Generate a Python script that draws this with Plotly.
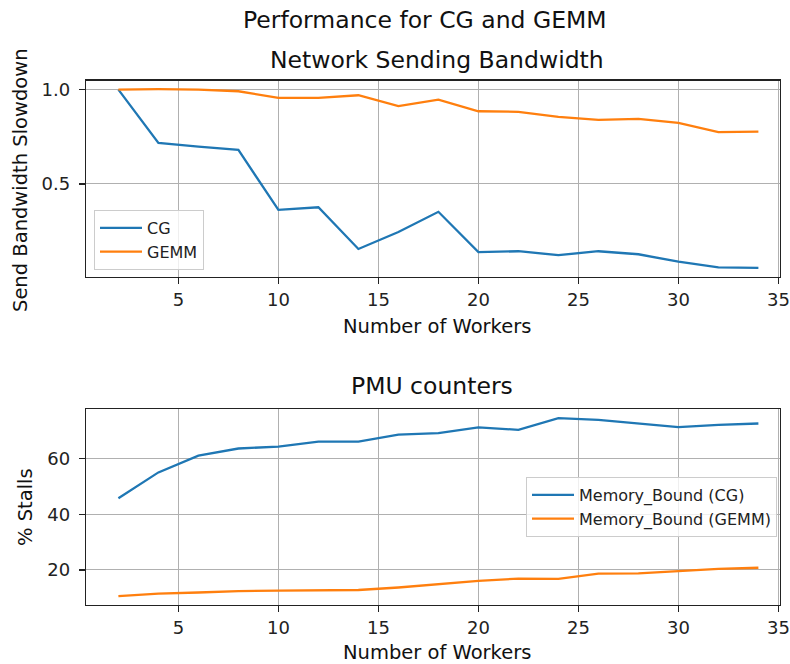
import plotly.graph_objects as go

W, H = 790, 664

workers = [2, 4, 6, 8, 10, 12, 14, 16, 18, 20, 22, 24, 26, 28, 30, 32, 34]
cg_bw = [1.0, 0.717, 0.698, 0.680, 0.362, 0.376, 0.155, 0.245, 0.352, 0.138, 0.143,
         0.122, 0.143, 0.127, 0.088, 0.057, 0.055]
gemm_bw = [1.0, 1.002, 1.0, 0.991, 0.956, 0.956, 0.970, 0.912, 0.947, 0.885, 0.882,
           0.855, 0.839, 0.845, 0.823, 0.774, 0.777]
cg_mem = [45.8, 55.1, 61.1, 63.7, 64.4, 66.2, 66.2, 68.7, 69.2, 71.3, 70.4, 74.6,
          74.0, 72.8, 71.4, 72.2, 72.7]
gemm_mem = [10.6, 11.5, 11.9, 12.4, 12.6, 12.7, 12.8, 13.7, 15.0, 16.1, 16.9, 16.8,
            18.7, 18.8, 19.6, 20.4, 20.8]

BLUE = "#1f77b4"
ORANGE = "#ff7f0e"
FONT = "DejaVu Sans"


def px(x):
    return x / W


def py(y):
    return 1 - y / H


fig = go.Figure()
fig.add_trace(go.Scatter(x=workers, y=cg_bw, mode="lines", name="CG",
                         line=dict(color=BLUE, width=2.3), xaxis="x", yaxis="y",
                         legend="legend"))
fig.add_trace(go.Scatter(x=workers, y=gemm_bw, mode="lines", name="GEMM",
                         line=dict(color=ORANGE, width=2.3), xaxis="x", yaxis="y",
                         legend="legend"))
fig.add_trace(go.Scatter(x=workers, y=cg_mem, mode="lines", name="Memory_Bound (CG)",
                         line=dict(color=BLUE, width=2.3), xaxis="x2", yaxis="y2",
                         legend="legend2"))
fig.add_trace(go.Scatter(x=workers, y=gemm_mem, mode="lines", name="Memory_Bound (GEMM)",
                         line=dict(color=ORANGE, width=2.3), xaxis="x2", yaxis="y2",
                         legend="legend2"))

x_dom = [px(86), px(780)]
axis_common = dict(showline=True, mirror=True, linecolor="#222222", linewidth=1.3,
                   ticks="outside", ticklen=6, tickcolor="#222222", tickwidth=1.3,
                   showgrid=True, gridcolor="#b0b0b0", gridwidth=1, zeroline=False,
                   tickfont=dict(family=FONT, size=18, color="#222222"),
                   automargin=False)

legend_common = dict(xanchor="left", yanchor="top", bgcolor="rgba(255,255,255,0.8)",
                     bordercolor="#cccccc", borderwidth=1, itemwidth=42,
                     font=dict(family=FONT, size=16, color="#222222"), tracegroupgap=0)

fig.update_layout(
    width=W, height=H,
    margin=dict(l=0, r=0, t=0, b=0, pad=0),
    paper_bgcolor="white", plot_bgcolor="white",
    font=dict(family=FONT, color="#222222"),
    xaxis=dict(domain=x_dom, anchor="y", range=[0.38, 35.08],
               tickvals=[5, 10, 15, 20, 25, 30, 35], **axis_common),
    yaxis=dict(domain=[py(276.7), py(80.7)], anchor="x", range=[0.008, 1.047],
               tickvals=[0.5, 1.0], ticktext=["0.5", "1.0"], ticklabelstandoff=5,
               **axis_common),
    xaxis2=dict(domain=x_dom, anchor="y2", range=[0.38, 35.08],
                tickvals=[5, 10, 15, 20, 25, 30, 35], **axis_common),
    yaxis2=dict(domain=[py(605), py(409.3)], anchor="x2", range=[7.4, 77.8],
                tickvals=[20, 40, 60], ticklabelstandoff=5, **axis_common),
    legend=dict(x=px(94), y=py(210), **legend_common),
    legend2=dict(x=px(526), y=py(477), **legend_common),
    showlegend=True,
)

ann = [
    dict(text="Performance for CG and GEMM", x=px(425), y=py(20), size=23.5, angle=0),
    dict(text="Network Sending Bandwidth", x=px(437), y=py(60), size=23.5, angle=0),
    dict(text="Number of Workers", x=px(437), y=py(326), size=19.5, angle=0),
    dict(text="PMU counters", x=px(432), y=py(386), size=23.5, angle=0),
    dict(text="Number of Workers", x=px(437), y=py(652), size=19.5, angle=0),
    dict(text="Send Bandwidth Slowdown", x=px(20), y=py(180), size=19.5, angle=-90),
    dict(text="% Stalls", x=px(26), y=py(507), size=19.5, angle=-90),
]
for a in ann:
    fig.add_annotation(text=a["text"], x=a["x"], y=a["y"], xref="paper", yref="paper",
                       xanchor="center", yanchor="middle", showarrow=False,
                       textangle=a["angle"],
                       font=dict(family=FONT, size=a["size"], color="#111111"))

fig.write_html("out.html",
               config={"displayModeBar": False, "staticPlot": True},
               post_script="document.body.style.margin='0';"
                           "document.body.style.overflow='hidden';")
